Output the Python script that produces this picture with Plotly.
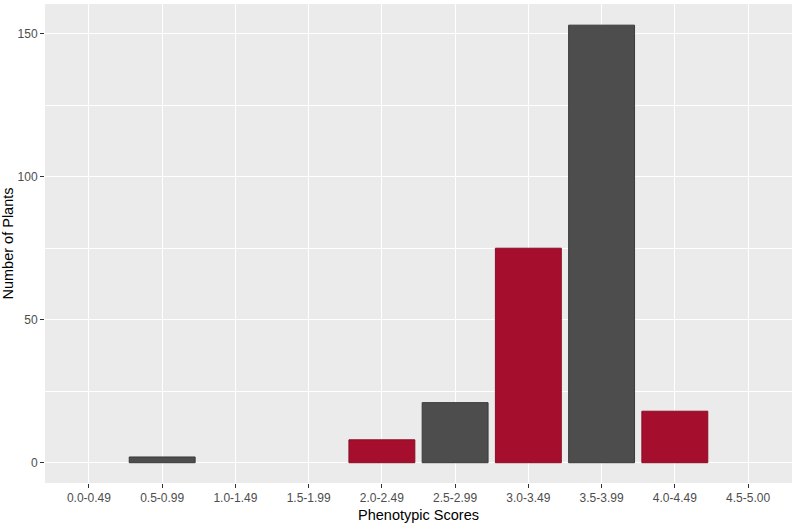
import plotly.graph_objects as go

categories = ["0.0-0.49", "0.5-0.99", "1.0-1.49", "1.5-1.99", "2.0-2.49",
              "2.5-2.99", "3.0-3.49", "3.5-3.99", "4.0-4.49", "4.5-5.00"]
counts = [0, 2, 0, 0, 8, 21, 75, 153, 18, 0]
groups = ["gray", "gray", "gray", "gray", "red", "gray", "red", "gray", "red", "gray"]

fill = {"gray": "#4D4D4D", "red": "#A50F2D"}
edge = {"gray": "#3A3A3A", "red": "#8A0C25"}

fig = go.Figure(go.Bar(
    x=categories, y=counts, width=0.9,
    marker=dict(color=[fill[g] for g in groups],
                line=dict(color=[edge[g] for g in groups],
                          width=[1 if c > 0 else 0 for c in counts])),
    hoverinfo="x+y",
))

fig.update_layout(
    width=797, height=524,
    margin=dict(l=45, r=5, t=4, b=41),
    plot_bgcolor="#EBEBEB", paper_bgcolor="white",
    font=dict(family="Liberation Sans, Arial, sans-serif"),
    showlegend=False, bargap=0.1,
)
fig.update_xaxes(
    type="category", range=[-0.6, 9.6],
    showgrid=True, gridcolor="white", gridwidth=1.1,
    ticks="outside", ticklen=4, tickcolor="#333333", tickwidth=1,
    tickfont=dict(size=12, color="#4D4D4D"),
    title=dict(text="Phenotypic Scores", font=dict(size=14.5, color="black"), standoff=5),
    zeroline=False, showline=False,
)
fig.update_yaxes(
    range=[-7.1, 160.4], tickvals=[0, 50, 100, 150],
    showgrid=True, gridcolor="white", gridwidth=1.1,
    minor=dict(tickvals=[25, 75, 125], showgrid=True, gridcolor="white", gridwidth=0.5, ticks=""),
    ticks="outside", ticklen=4, tickcolor="#333333", tickwidth=1,
    tickfont=dict(size=12, color="#4D4D4D"),
    title=dict(text="Number of Plants", font=dict(size=14.5, color="black"), standoff=4),
    zeroline=False, showline=False,
)

fig.write_html("out.html")
